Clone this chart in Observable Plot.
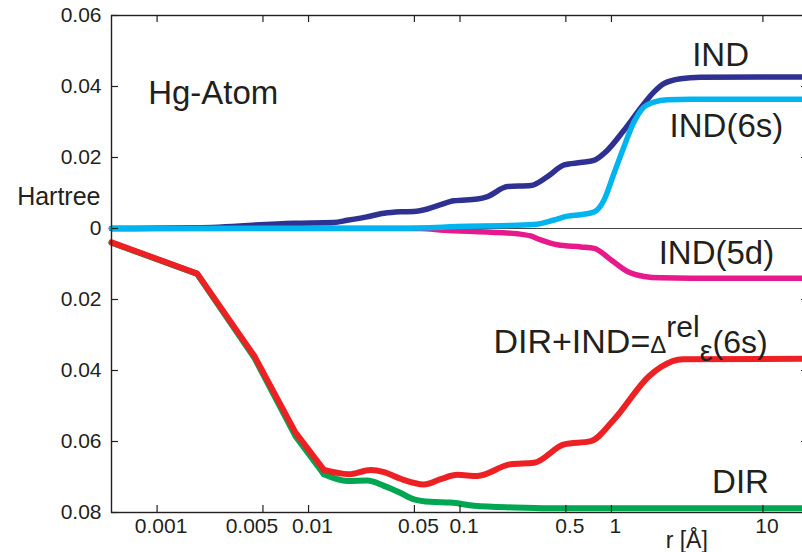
<!DOCTYPE html>
<html><head><meta charset="utf-8">
<script src="https://cdn.jsdelivr.net/npm/d3@7"></script>
<script src="https://cdn.jsdelivr.net/npm/@observablehq/plot@0.6"></script>
<style>
html,body{margin:0;padding:0;background:#fff;overflow:hidden;}
#chart svg{display:block;max-width:none;}
</style></head><body><div id="chart"></div>
<script>
// r in Å (log scale), energies in Hartree
const rDir = [0.0005, 0.00184, 0.0044, 0.0082, 0.01262, 0.01804, 0.0244, 0.0315, 0.0406, 0.0497, 0.064, 0.0867, 0.124, 0.2277, 0.4, 20];
const eDir = [-0.0040, -0.0128, -0.0365, -0.0585, -0.0692, -0.0711, -0.0710, -0.0725, -0.0745, -0.0763, -0.0770, -0.0772, -0.0781, -0.0786, -0.0788, -0.0788];

const rSum = [0.0005, 0.00184, 0.0044, 0.0082, 0.01262, 0.01845, 0.0257, 0.0315, 0.0406, 0.0578, 0.0745, 0.096, 0.130, 0.216, 0.308, 0.487, 0.731, 1.04, 1.77, 2.12, 2.96, 20];
const eSum = [-0.0039, -0.0127, -0.0360, -0.0575, -0.0680, -0.0692, -0.0680, -0.0686, -0.0705, -0.0721, -0.0706, -0.0694, -0.0697, -0.0664, -0.0660, -0.0608, -0.0599, -0.0538, -0.0416, -0.0390, -0.0368, -0.0367];

const r5d = [0.0005, 0.055, 0.0783, 0.152, 0.239, 0.293, 0.341, 0.440, 0.628, 0.769, 0.991, 1.276, 1.645, 2.12, 3.35, 20];
const e5d = [0, 0, -0.0005, -0.0010, -0.0015, -0.0021, -0.0032, -0.0046, -0.0052, -0.0056, -0.0088, -0.0121, -0.0135, -0.0139, -0.0140, -0.0140];

const rInd = [0.0005, 0.00184, 0.00796, 0.01463, 0.01803, 0.0238, 0.0315, 0.0406, 0.0497, 0.061, 0.0745, 0.0912, 0.130, 0.152, 0.2057, 0.293, 0.378, 0.487, 0.625, 0.765, 0.9375, 1.206, 1.636, 1.904, 2.217, 2.858, 3.873, 20];
const eInd = [0, 0.0002, 0.0015, 0.0017, 0.0023, 0.0032, 0.0043, 0.0047, 0.0048, 0.0055, 0.0067, 0.0078, 0.0083, 0.0090, 0.0118, 0.0121, 0.0146, 0.0179, 0.0186, 0.0192, 0.0220, 0.0276, 0.0351, 0.0384, 0.0408, 0.0422, 0.0426, 0.0427];

const r6s = [0.0005, 0.0406, 0.112, 0.186, 0.308, 0.418, 0.513, 0.625, 0.765, 0.89, 1.037, 1.206, 1.405, 1.636, 1.904, 2.334, 3.35, 20];
const e6s = [0, 0.0001, 0.0006, 0.0008, 0.0011, 0.0024, 0.0035, 0.0039, 0.0046, 0.0079, 0.0154, 0.0229, 0.0299, 0.0342, 0.0356, 0.0363, 0.0364, 0.0364];

const xTickValues = [0.001, 0.005, 0.01, 0.05, 0.1, 0.5, 1, 10];
const xTickLabels = ["0.001", "0.005", "0.01", "0.05", "0.1", "0.5", "1", "10"];
const yTickValues = [0.06, 0.04, 0.02, 0, -0.02, -0.04, -0.06, -0.08];
const yTickLabels = ["0.06", "0.04", "0.02", "0", "0.02", "0.04", "0.06", "0.08"];

const seriesNames = ["DIR", "DIR+IND", "IND(5d)", "IND", "IND(6s)"];
const seriesColors = ["#00a651", "#ed2024", "#e8198b", "#2e3192", "#00b5ef"];
const seriesR = [rDir, rSum, r5d, rInd, r6s];
const seriesE = [eDir, eSum, e5d, eInd, e6s];

const rows = seriesNames.flatMap((s, i) => seriesR[i].map((r, j) => ({series: s, r, e: seriesE[i][j]})));

const ink = "#231f20";
const fmtX = d => xTickLabels[xTickValues.indexOf(d)];
const fmtY = d => yTickLabels[yTickValues.indexOf(d)];
const W = 808, H = 552, ML = 111, MR = 0, MT = 15, MB = 40;
const FW = W - ML - MR, FH = H - MT - MB, TL = 7;
const kink = 0.01262; // DIR curves: inner region straight segments, outer region smooth

const lineMarks = seriesNames.flatMap((s, i) => {
  const d = rows.filter(v => v.series === s);
  const opts = {x: "r", y: "e", stroke: seriesColors[i], strokeWidth: i < 2 ? 6 : 5.5, strokeLinejoin: "round", strokeLinecap: "round"};
  if (i < 2) return [
    Plot.line(d.filter(v => v.r <= kink), {...opts, curve: "linear"}),
    Plot.line(d.filter(v => v.r >= kink), {...opts, curve: "monotone-x"})
  ];
  return [Plot.line(d, {...opts, curve: "monotone-x"})];
});

const big = 33;
const chart = Plot.plot({
  width: W, height: H,
  marginLeft: ML, marginRight: MR, marginTop: MT, marginBottom: MB,
  style: {fontFamily: "'Liberation Sans', Arial, Helvetica, sans-serif", fontSize: "21px", color: ink, background: "#fff"},
  x: {type: "log", domain: [0.0005, 20], axis: null},
  y: {domain: [-0.08, 0.06], axis: null},
  marks: [
    Plot.ruleY([0], {stroke: "#444", strokeWidth: 1.2}),
    ...lineMarks,
    Plot.frame({stroke: ink, strokeWidth: 1.4}),
    Plot.tickX(xTickValues, {x: d => d, insetBottom: FH - TL, stroke: ink, strokeWidth: 1.2}),
    Plot.tickX(xTickValues, {x: d => d, insetTop: FH - TL, stroke: ink, strokeWidth: 1.2}),
    Plot.tickY(yTickValues, {y: d => d, insetRight: FW - TL, stroke: ink, strokeWidth: 1.2}),
    Plot.tickY(yTickValues, {y: d => d, insetLeft: FW - TL, stroke: ink, strokeWidth: 1.2}),
    Plot.text(yTickValues, {y: d => d, text: fmtY, frameAnchor: "left", dx: -10, textAnchor: "end", lineAnchor: "middle", fill: ink}),
    Plot.text(xTickValues.filter(d => d !== 0.005), {x: d => d, text: fmtX, frameAnchor: "bottom", dy: 6, dx: 4, lineAnchor: "top", fill: ink}),
    Plot.text([0.005], {x: d => d, text: fmtX, frameAnchor: "bottom", dy: 6, dx: -11, lineAnchor: "top", fill: ink}),
    Plot.text(["Hartree"], {frameAnchor: "left", y: 0.0065, dx: -11, textAnchor: "end", lineAnchor: "bottom", fontSize: 25, fill: ink}),
    Plot.text(["r [Å]"], {x: 2.28, frameAnchor: "bottom", dy: 35, textAnchor: "start", lineAnchor: "bottom", fontSize: 23, fill: ink}),
    Plot.text(["Hg-Atom"], {x: 0.000873, y: 0.0352, textAnchor: "start", lineAnchor: "bottom", fontSize: 33, fill: ink}),
    Plot.text(["IND"], {x: 3.41, y: 0.0459, textAnchor: "start", lineAnchor: "bottom", fontSize: big, fill: ink}),
    Plot.text(["IND(6s)"], {x: 2.42, y: 0.0259, textAnchor: "start", lineAnchor: "bottom", fontSize: big, fill: ink}),
    Plot.text(["IND(5d)"], {x: 2.05, y: -0.0099, textAnchor: "start", lineAnchor: "bottom", fontSize: big, fill: ink}),
    Plot.text(["DIR+IND=Δrelε(6s)"], {x: 0.1663, y: -0.0352, textAnchor: "start", lineAnchor: "bottom", fontSize: big, fill: ink}),
    Plot.text(["DIR"], {x: 4.62, y: -0.0746, textAnchor: "start", lineAnchor: "bottom", fontSize: big, fill: ink})
  ]
});

// rich formatting of the composite label
d3.select(chart).selectAll("text").each(function() {
  if (this.textContent === "DIR+IND=Δrelε(6s)") {
    const t = d3.select(this);
    t.text(null);
    t.append("tspan").attr("font-size", 34).text("DIR+IND=");
    t.append("tspan").attr("font-size", 24).text("Δ");
    t.append("tspan").attr("font-size", 30).attr("dy", -16).text("rel");
    t.append("tspan").attr("font-size", 29).attr("dy", 24).text("ε");
    t.append("tspan").attr("font-size", 32).attr("dy", -8).text("(6s)");
  }
});

document.getElementById("chart").appendChild(chart);
</script>
</body></html>
